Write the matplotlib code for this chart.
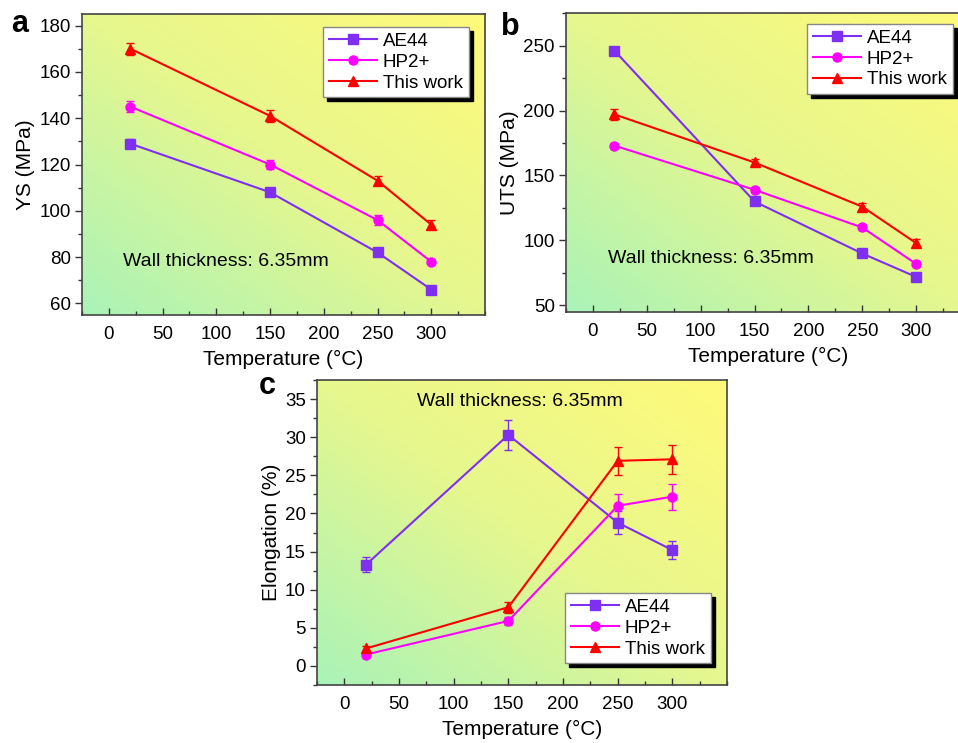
import numpy as np
import matplotlib
matplotlib.use("Agg")
import matplotlib.pyplot as plt
from matplotlib.colors import LinearSegmentedColormap
from matplotlib.ticker import MultipleLocator

plt.rcParams['font.family'] = ['Liberation Sans', 'DejaVu Sans']

temps = [20, 150, 250, 300]
series = ["AE44", "HP2+", "This work"]

ys_ae44 = [129, 108, 82, 66]
ys_hp2 = [145, 120, 96, 78]
ys_work = [170, 141, 113, 94]
ys_ae44_err = [2, 1.5, 1, 1]
ys_hp2_err = [2.5, 2, 2, 1]
ys_work_err = [2.5, 2.5, 2, 2]

uts_ae44 = [246, 130, 90, 72]
uts_hp2 = [173, 139, 110, 82]
uts_work = [197, 160, 126, 98]
uts_ae44_err = [3, 2, 2, 2]
uts_hp2_err = [2, 2, 2, 2]
uts_work_err = [4, 3, 3, 3]

el_ae44 = [13.3, 30.3, 18.8, 15.2]
el_hp2 = [1.5, 5.9, 21.0, 22.2]
el_work = [2.3, 7.7, 26.9, 27.1]
el_ae44_err = [1.0, 2.0, 1.5, 1.2]
el_hp2_err = [0.3, 0.5, 1.6, 1.7]
el_work_err = [0.3, 0.7, 1.8, 1.9]

colors = ["#7f2fef", "#ff00ff", "#ff0000"]
markers = ["s", "o", "^"]
bg_cmap = LinearSegmentedColormap.from_list("bg", ["#aaf3b8", "#e6f78e", "#fffa7a"])


def style_axes(ax, ylim, ymaj, ymin, ylabel):
    # diagonal green -> yellow background
    g = np.linspace(0, 1, 200)
    grad = (g[None, :] + g[::-1, None]) / 2
    ax.imshow(grad, extent=[0, 1, 0, 1], transform=ax.transAxes, cmap=bg_cmap,
              aspect='auto', zorder=0, interpolation='bilinear')
    ax.set_xlim(-25, 350)
    ax.set_ylim(*ylim)
    ax.xaxis.set_major_locator(MultipleLocator(50))
    ax.xaxis.set_minor_locator(MultipleLocator(25))
    ax.yaxis.set_major_locator(MultipleLocator(ymaj))
    ax.yaxis.set_minor_locator(MultipleLocator(ymin))
    ax.set_xticks([0, 50, 100, 150, 200, 250, 300])
    ax.tick_params(axis='x', which='both', direction='in', labelsize=13.5, pad=8)
    ax.tick_params(axis='y', which='both', direction='out', labelsize=13.5, pad=3)
    ax.tick_params(which='major', length=5, width=1, color='#333333')
    ax.tick_params(which='minor', length=3, width=1, color='#333333')
    for s in ax.spines.values():
        s.set_color('#444444')
        s.set_linewidth(1.2)
    ax.set_xlabel("Temperature (°C)", fontsize=15, labelpad=5)
    ax.set_ylabel(ylabel, fontsize=15, labelpad=3)


def draw_series(ax, vals, errs):
    for v, e, c, m, lab in zip(vals, errs, colors, markers, series):
        ax.errorbar(temps, v, yerr=e, fmt='none', ecolor=c, capsize=3,
                    elinewidth=1, capthick=1, zorder=3)
        ax.plot(temps, v, color=c, marker=m, markersize=6.5, lw=1.5, label=lab, zorder=4)


def add_legend(ax, fig, anchor):
    leg = ax.legend(loc='upper left', bbox_to_anchor=anchor, bbox_transform=fig.transFigure,
                    borderaxespad=0, fontsize=13.5, handlelength=2.6, handletextpad=0.3,
                    labelspacing=0.2, borderpad=0.3, fancybox=False, framealpha=1,
                    edgecolor='#888888',
                    shadow={'ox': 3, 'oy': -3, 'color': 'black', 'alpha': 1})
    leg.get_frame().set_linewidth(1)
    return leg


fig = plt.figure(figsize=(9.58, 7.43), dpi=100)

ax_a = fig.add_axes([82 / 958, 1 - 315 / 743, 403 / 958, 301 / 743])
style_axes(ax_a, (55, 185), 20, 10, "YS (MPa)")
draw_series(ax_a, [ys_ae44, ys_hp2, ys_work], [ys_ae44_err, ys_hp2_err, ys_work_err])
add_legend(ax_a, fig, (323 / 958, 1 - 27 / 743))
ax_a.text(123 / 958, 1 - 262 / 743, "Wall thickness: 6.35mm", transform=fig.transFigure,
          fontsize=14, va='center', ha='left')

ax_b = fig.add_axes([566 / 958, 1 - 312 / 743, 404 / 958, 299 / 743])
style_axes(ax_b, (45, 275), 50, 25, "UTS (MPa)")
draw_series(ax_b, [uts_ae44, uts_hp2, uts_work], [uts_ae44_err, uts_hp2_err, uts_work_err])
add_legend(ax_b, fig, (807 / 958, 1 - 24 / 743))
ax_b.text(608 / 958, 1 - 258 / 743, "Wall thickness: 6.35mm", transform=fig.transFigure,
          fontsize=14, va='center', ha='left')

ax_c = fig.add_axes([317 / 958, 1 - 685 / 743, 410 / 958, 305 / 743])
style_axes(ax_c, (-2.5, 37.5), 5, 2.5, "Elongation (%)")
draw_series(ax_c, [el_ae44, el_hp2, el_work], [el_ae44_err, el_hp2_err, el_work_err])
add_legend(ax_c, fig, (565 / 958, 1 - 593 / 743))
ax_c.text(417 / 958, 1 - 402 / 743, "Wall thickness: 6.35mm", transform=fig.transFigure,
          fontsize=14, va='center', ha='left')

for lab, x, y in [("a", 20, 24), ("b", 510, 27), ("c", 267, 386)]:
    fig.text(x / 958, 1 - y / 743, lab, fontsize=22, fontweight='bold', ha='center', va='center')

fig.savefig("out.png", dpi=100)
